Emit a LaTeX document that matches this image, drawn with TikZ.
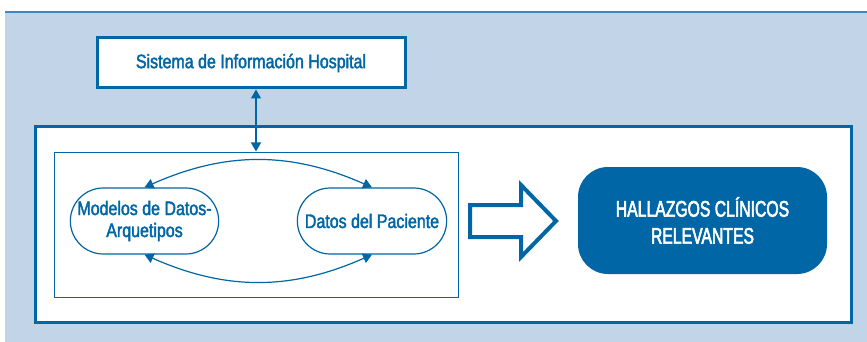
\documentclass[tikz,border=0pt]{standalone}
\usepackage{fontspec}
\setmainfont{Liberation Sans}[FakeStretch=0.82,FakeBold=2]
\newfontfamily\condfont{Liberation Sans}[FakeStretch=0.7,FakeBold=2.5]
\usetikzlibrary{arrows.meta,shapes.misc}
\definecolor{hblue}{HTML}{0066A6}
\definecolor{hback}{HTML}{C2D4E8}
\definecolor{hrule}{HTML}{3F87C0}

\tikzstyle{panel}=[draw=hblue,line width=3pt,fill=white]
\tikzstyle{pill}=[draw=hblue,line width=1.2pt,rounded rectangle,fill=white,text=hblue,minimum width=155pt,minimum height=66pt,align=center,font=\fontsize{19.5}{22}\selectfont]
\tikzstyle{link}=[draw=hblue,line width=1.2pt,{Triangle[length=9pt,width=10pt]}-{Triangle[length=9pt,width=10pt]}]
\newcommand{\pxunit}{1pt}

\begin{document}
\begin{tikzpicture}[x=\pxunit, y=-\pxunit]
    % background and top rule
    \useasboundingbox (0,0) rectangle (867,342);
    \fill[hback] (5,13) rectangle (867,342);
    \draw[hrule,line width=2pt] (5,12) -- (867,12);
    % the boxes
    \node[panel,minimum width=816pt,minimum height=195pt] (outer) at (443,224.5) {};
    \node[panel,minimum width=308pt,minimum height=50pt,text=hblue,font=\fontsize{19.5}{22}\selectfont] (sih) at (251,63) {Sistema de Información Hospital};
    \node[draw=hblue,line width=1pt,minimum width=404pt,minimum height=145pt] (frame) at (256,224.5) {};
    \node[pill] (modelos) at (144.5,221) {Modelos de Datos-\\Arquetipos};
    \node[pill,minimum width=156pt] (paciente) at (372,221) {Datos del Paciente};
    \node[fill=hblue,rounded corners=30pt,minimum width=249pt,minimum height=107pt,text=white,align=center,font=\condfont\fontsize{22.5}{27}\selectfont] (hallazgos) at (702.5,220.5) {HALLAZGOS CLÍNICOS\\RELEVANTES};
    % connectors
    \path[link] (sih.south -| frame.north) -- (frame.north);
    \path[link] (modelos.north) to[bend left=24] (paciente.north);
    \path[link] (modelos.south) to[bend right=24] (paciente.south);
    % the block arrow
    \draw[hblue,line width=4pt] (470,205) -- (521,205) -- (521,185) -- (556,221) -- (521,257) -- (521,237) -- (470,237) -- cycle;
\end{tikzpicture}
\end{document}
